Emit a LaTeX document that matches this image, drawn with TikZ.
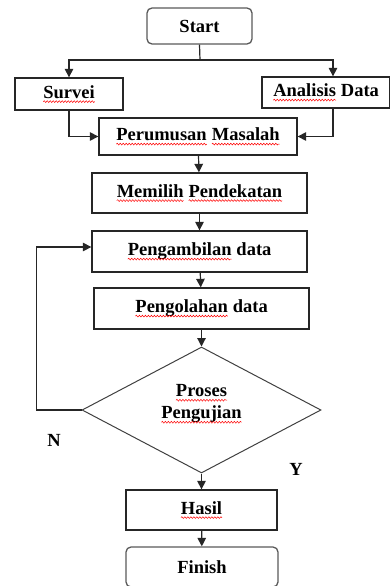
\documentclass[tikz,border=0pt]{standalone}
\usepackage{fontspec}
\setmainfont{Liberation Serif}
\usetikzlibrary{arrows.meta,shapes.geometric,decorations.pathmorphing}
\newcommand\spl[1]{\tikz[baseline=(w.base),x=1pt,y=1pt]{\node[rectangle,draw=none,minimum width=0pt,minimum height=0pt,inner sep=0pt,outer sep=0pt,rounded corners=0pt](w){#1};\draw[red,line width=0.5pt,sharp corners,decorate,decoration={snake,amplitude=0.9pt,segment length=3pt}]([yshift=-3.5pt]w.base west)--([yshift=-3.5pt]w.base east);}}
\tikzset{
  box/.style={draw=black!85, line width=1.3pt, minimum width=#1, inner sep=0pt},
  rbox/.style={draw=black!65, line width=1.3pt, rounded corners=5pt, inner sep=0pt},
  arr/.style={line width=1.2pt, draw=black!85, -{Triangle[length=8.5pt,width=8.5pt]}},
  ln/.style={line width=1.2pt, draw=black!85}
}
\begin{document}
\begin{tikzpicture}[x=1pt,y=-1pt, every node/.style={font=\bfseries\fontsize{18.5}{21}\selectfont}]
\useasboundingbox (0,0) rectangle (390,586);
\begin{scope}
\clip (0,0) rectangle (390,586);
\node[rbox, minimum width=105pt, minimum height=36pt] (start) at (199.5,26) {Start};
\node[box=108pt, minimum height=32pt] (survei) at (69,94) {\spl{Survei}};
\node[box=128pt, minimum height=31pt] (analisis) at (326,92.5) {\spl{Analisis} Data};
\node[box=198pt, minimum height=37pt] (perumusan) at (198,136.5) {\spl{Perumusan} \spl{Masalah}};
\node[box=215pt, minimum height=40pt] (memilih) at (199.5,193) {\spl{Memilih} \spl{Pendekatan}};
\node[box=215pt, minimum height=41pt] (pengambilan) at (199.5,251.5) {\spl{Pengambilan} data};
\node[box=215pt, minimum height=41pt] (pengolahan) at (201.5,308.5) {\spl{Pengolahan} data};
\node[diamond, draw=black!75, line width=1pt, aspect=1.9, minimum width=239pt, minimum height=126pt, inner sep=0pt] (uji) at (201.5,410) {};
\node[align=center, inner sep=0pt] (ujitext) at (201.5,404) {\spl{Proses}\\[1pt]\spl{Pengujian}};
\node[box=151pt, minimum height=40pt] (hasil) at (201.5,510) {\spl{Hasil}};
\node[rbox, minimum width=152pt, minimum height=40pt] (finish) at (202,567) {Finish};
\node (nlab) at (54,440) {N};
\node (ylab) at (296,469) {Y};
\coordinate (split) at (200,60);
\draw[ln] (start.south) -- (split);
\draw[arr] (split) -| (survei.north);
\draw[arr] (split) -| ([xshift=7pt]analisis.north);
\draw[arr] (survei.south) |- (perumusan.west);
\draw[arr] ([xshift=7pt]analisis.south) |- (perumusan.east);
\draw[arr] (perumusan) -- (memilih);
\draw[arr] (memilih) -- (pengambilan);
\draw[arr] (pengambilan) -- (pengolahan);
\draw[arr] (pengolahan.south) -- (uji.north);
\draw[arr] (uji.west) -- ++(-45,0) |- ([yshift=4.5pt]pengambilan.west);
\draw[arr] (uji.south) -- (hasil.north);
\draw[arr] (hasil) -- (finish);
\end{scope}
\end{tikzpicture}
\end{document}
